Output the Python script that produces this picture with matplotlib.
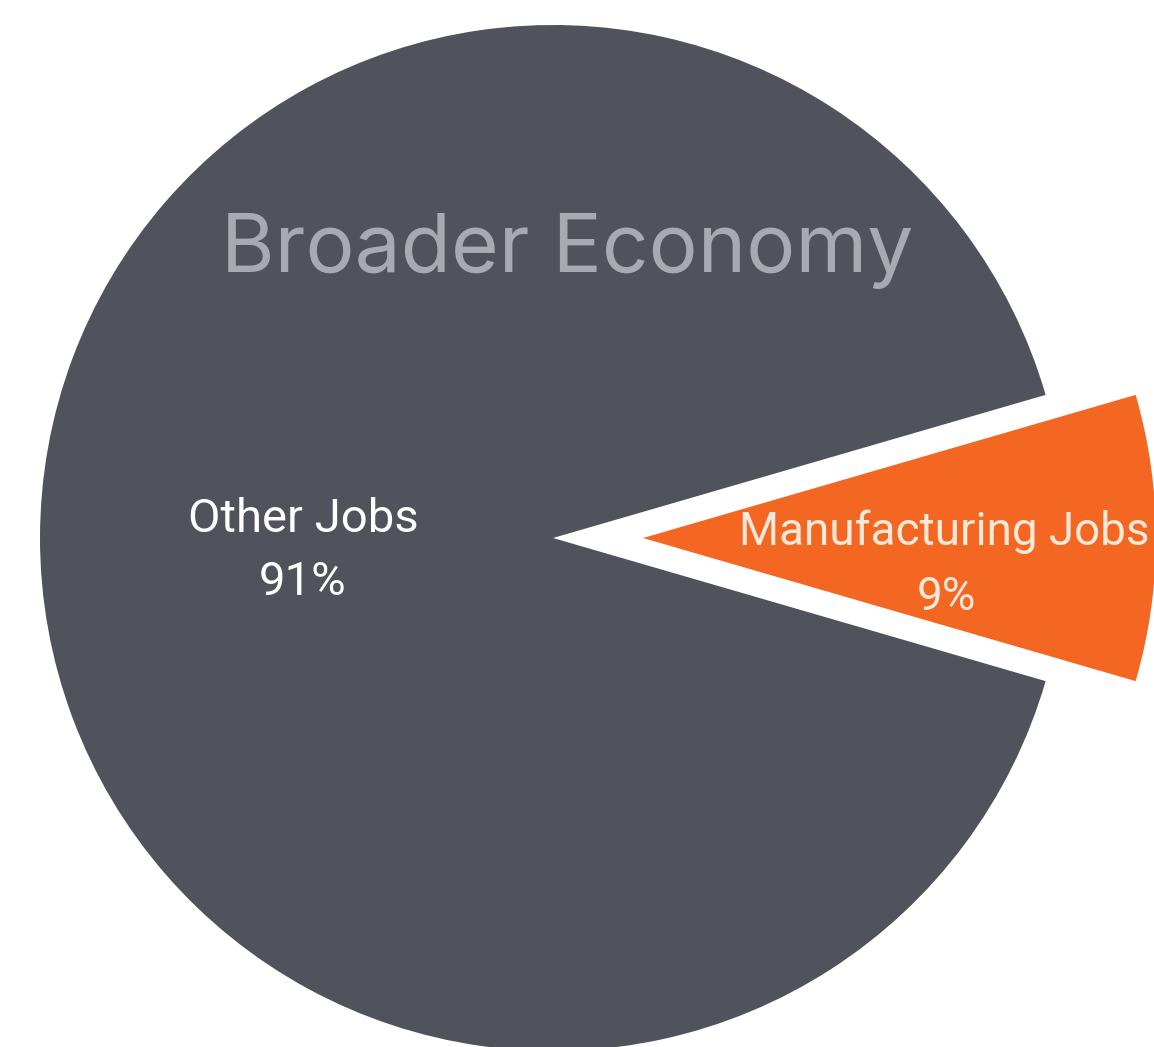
import matplotlib.pyplot as plt

# Job share data
labels = ["Manufacturing Jobs", "Other Jobs"]
shares = [9, 91]
colors = ["#f36722", "#50525c"]

W, H = 1154, 1047
fig = plt.figure(figsize=(W / 100, H / 100), dpi=100)
ax = fig.add_axes([0, 0, 1, 1])

# pie laid out in pixel units so the figure maps 1:1 onto the axes
R = 513
cx, cy = 553, H - 538
explode = [90, 0]  # offset in data units
start = -shares[0] / 100 * 360 / 2

wedges, _ = ax.pie(shares, colors=colors, explode=explode, radius=R,
                   center=(cx, cy), startangle=start, counterclock=True,
                   wedgeprops=dict(linewidth=0), frame=True)
ax.set_xlim(0, W)
ax.set_ylim(0, H)
ax.set_aspect("equal")
ax.axis("off")

ax.text(567, H - 272, "Broader Economy", ha="center", va="baseline",
        fontsize=59, color="#a9aab1", family="Inter")

# slice labels: name on the first line, share below
ax.text(303, H - 532, labels[1], ha="center", va="baseline",
        fontsize=34, color="white", family="Roboto")
ax.text(303, H - 595, f"{shares[1]}%", ha="center", va="baseline",
        fontsize=34, color="white", family="Roboto")
ax.text(944, H - 545, labels[0], ha="center", va="baseline",
        fontsize=33, color="#fde8da", family="Roboto")
ax.text(946, H - 610, f"{shares[0]}%", ha="center", va="baseline",
        fontsize=33, color="#fde8da", family="Roboto")

fig.savefig("out.png", dpi=100, facecolor="white")
